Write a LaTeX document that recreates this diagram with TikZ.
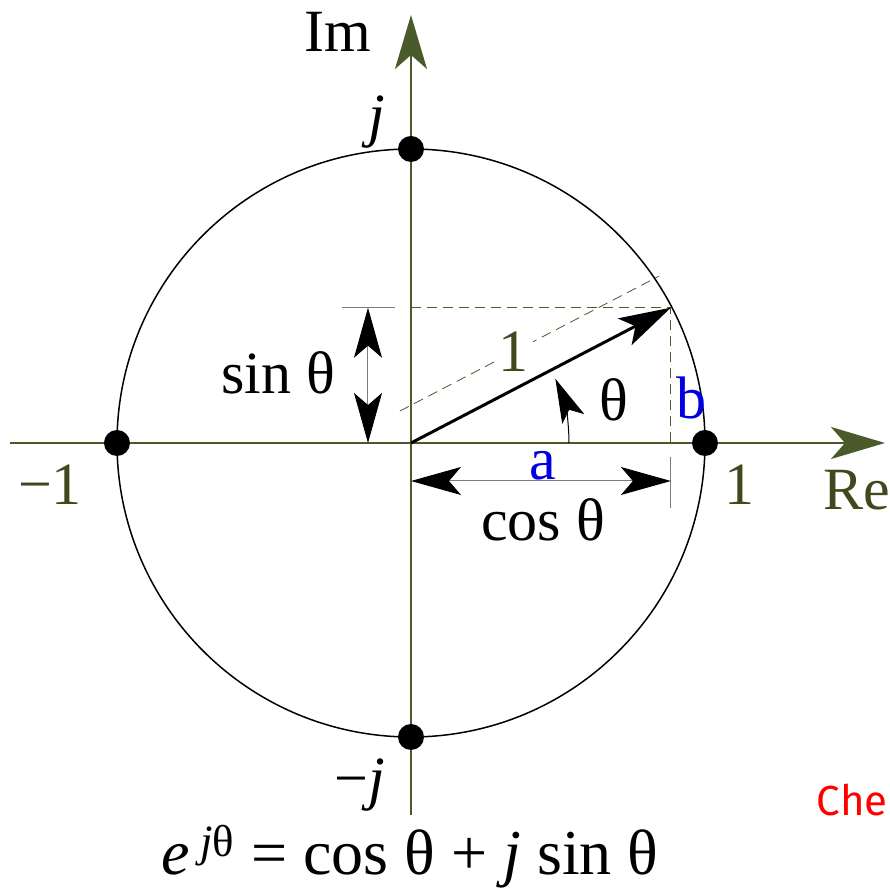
\documentclass[tikz,border=0pt]{standalone}
\usepackage{fontspec}
\setmainfont{Liberation Serif}
\newfontfamily\notefont{Fira Sans}
\usetikzlibrary{arrows.meta, calc}
\definecolor{ucOlive}{RGB}{74,90,42}
\definecolor{ucText}{RGB}{62,74,30}
\definecolor{ucBlue}{RGB}{0,0,225}
\definecolor{ucRed}{RGB}{255,0,0}
\definecolor{ucGray}{RGB}{125,125,125}

\begin{document}
\begin{tikzpicture}[
    x=0.5pt, y=0.5pt,
    font=\fontsize{30}{34}\selectfont,
    axis/.style={draw=ucOlive, line width=1pt,
                 -{Stealth[length=27pt, width=16pt, inset=7pt, fill=ucOlive]}},
    dot/.style={circle, fill=black, inner sep=0pt, minimum size=13pt},
    guide/.style={draw=ucOlive, line width=0.4pt, dash pattern=on 5pt off 3pt},
    ext/.style={draw=ucGray, line width=0.5pt},
    dim/.style={ext, {Stealth[length=25pt, width=14pt, inset=6pt, black]}-{Stealth[length=25pt, width=14pt, inset=6pt, black]}},
    vec/.style={draw=black, line width=1.5pt,
                -{Stealth[length=26pt, width=15pt, inset=6pt]}},
    lbl/.style={inner sep=0pt},
    olbl/.style={text=ucText, inner sep=0pt},
    blbl/.style={text=ucBlue, inner sep=0pt}
]
\useasboundingbox (-411,-445) rectangle (479,443);

% points
\coordinate (O)   at (0,0);
\coordinate (P)   at (27.5:293);
\coordinate (Px)  at (P |- O);
\coordinate (Py)  at (O |- P);
\coordinate (ReL) at (-401,0);
\coordinate (ReR) at (474,0);
\coordinate (ImB) at (0,-372);
\coordinate (ImT) at (0,428);

% axes and circle
\draw[axis] (ReL) -- (ReR);
\draw[axis] (ImB) -- (ImT);
\draw[line width=0.75pt] (O) circle[radius=294];

\node[dot] (pj) at (0,294)  {};
\node[dot] (mj) at (0,-294) {};
\node[dot] (m1) at (-294,0) {};
\node[dot] (p1) at (294,0)  {};

% projections
\draw[guide] (Py) -- (P) -- (Px);
\coordinate (U1) at ($(-15.5,29.7)+(27.5:5)$);
\coordinate (U2) at ($(-15.5,29.7)+(27.5:297)$);
\draw[guide] (U1) -- node[olbl, fill=white, inner sep=2pt, pos=0.44] (one) {1} (U2);

% vector and angle
\draw[vec] (O) -- (P);
\coordinate (ang0) at (158,0);
\draw[draw=black, line width=0.5pt,
      -{Stealth[length=22pt, width=12pt, inset=5pt]}]
  (ang0) arc[start angle=0, end angle=24, radius=158];

% dimensions
\coordinate (sinA) at ($(Py)+(-69,0)$);
\coordinate (sinB) at ($(Py)+(-16,0)$);
\coordinate (sinL) at (-43,0);
\coordinate (sinT) at ($(Py)+(-43,0)$);
\draw[ext] (sinA) -- (sinB);
\draw[dim] (sinL) -- (sinT);

\coordinate (cosA) at ($(Px)+(0,-14)$);
\coordinate (cosB) at ($(Px)+(0,-65)$);
\coordinate (cosL) at (0,-38);
\coordinate (cosR) at ($(Px)+(0,-38)$);
\draw[ext] (cosA) -- (cosB);
\draw[dim] (cosL) -- (cosR);

% labels
\node[lbl]  (im)   at (-73,411)  {Im};
\node[lbl]  (jl)   at (-34,321)  {\textit{j}};
\node[lbl]  (mjl)  at (-51,-342) {−\textit{j}};
\node[olbl] (m1l)  at (-361,-42) {−1};
\node[olbl] (p1l)  at (329,-42)  {1};
\node[olbl, anchor=west] (rel) at (412,-47) {Re};
\node[lbl]  (sinl) at (-133,70)  {sin θ};
\node[lbl]  (thl)  at (203,43)   {θ};
\node[blbl] (bl)   at (281,45)   {b};
\node[blbl] (al)   at (132,-23)  {a};
\node[lbl]  (cosl) at (132,-77)  {cos θ};
\node[lbl, font=\fontsize{32}{36}\selectfont] (eul) at (-1,-414)
  {\textit{e}\,\textsuperscript{\textit{j}θ} = cos θ + \textit{j} sin θ};
\node[text=ucRed, anchor=east, inner sep=0pt,
      font=\notefont\fontsize{21}{25}\selectfont] (note) at (477,-357) {Che};
\end{tikzpicture}
\end{document}
